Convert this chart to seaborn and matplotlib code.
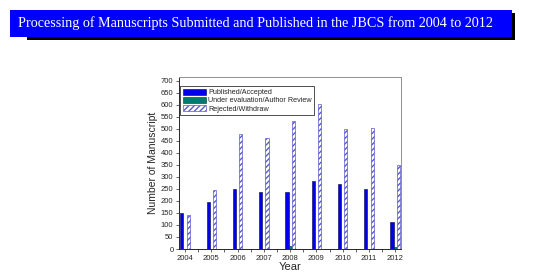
import matplotlib
matplotlib.use('Agg')
import matplotlib.pyplot as plt
from matplotlib.patches import Rectangle
from matplotlib.ticker import MultipleLocator
import seaborn as sns
import pandas as pd

years = ['2004', '2005', '2006', '2007', '2008', '2009', '2010', '2011', '2012']
published = [148, 197, 249, 236, 238, 283, 269, 251, 113]
under_review = [0, 0, 0, 0, 14, 2, 2, 0, 10]
rejected = [141, 246, 476, 462, 533, 603, 500, 502, 348]
series = ['Published/Accepted', 'Under evaluation/Author Review', 'Rejected/Withdraw']

df = pd.DataFrame({
    'Year': years * 3,
    'Count': published + under_review + rejected,
    'Status': [s for s in series for _ in years],
})

sns.set_style('ticks')
plt.rcParams['font.family'] = ['Liberation Sans', 'DejaVu Sans']

fig = plt.figure(figsize=(5.5, 2.77), dpi=100)

# title banner with drop shadow
fig.patches.append(Rectangle((27 / 550, 1 - 39.5 / 277), 488 / 550, 26.5 / 277,
                             transform=fig.transFigure, facecolor='black', edgecolor='none'))
fig.patches.append(Rectangle((10 / 550, 1 - 36.7 / 277), 502 / 550, 26.7 / 277,
                             transform=fig.transFigure, facecolor='#0000ff', edgecolor='none'))
fig.text(18 / 550, 1 - 23.5 / 277,
         'Processing of Manuscripts Submitted and Published in the JBCS from 2004 to 2012',
         color='white', family=['Liberation Serif', 'DejaVu Serif'], fontsize=10.15,
         va='center', ha='left')

ax = fig.add_axes([179 / 550, 1 - 249 / 277, 222 / 550, 172 / 277])
sns.barplot(data=df, x='Year', y='Count', hue='Status', hue_order=series,
            palette=['#0000ee', '#007a70', 'white'], width=0.36, gap=0,
            saturation=1, ax=ax, legend=False)

for p in ax.containers[0].patches:
    p.set_edgecolor('#000040')
    p.set_linewidth(0.4)
for p in ax.containers[1].patches:
    p.set_edgecolor('#003030')
    p.set_linewidth(0.4)
for p in ax.containers[2].patches:
    p.set_hatch('//////')
    p.set_edgecolor('#5a5ad0')
    p.set_linewidth(0.5)

ax.legend(ax.containers, series, loc='upper left', bbox_to_anchor=(0.0, 0.955),
          fontsize=5.2, frameon=True, fancybox=False, edgecolor='black',
          handlelength=3.2, handleheight=1.0, borderpad=0.35, labelspacing=0.05,
          handletextpad=0.25, borderaxespad=0.2)
ax.get_legend().get_frame().set_linewidth(0.6)

ax.set_ylim(0, 715)
ax.set_xlim(-0.23, 8.22)
ax.yaxis.set_major_locator(MultipleLocator(50))
ax.xaxis.set_minor_locator(MultipleLocator(1, offset=0.5))
ax.tick_params(axis='both', labelsize=5.5, length=2.5, width=0.5, pad=1.5)
ax.tick_params(axis='x', which='minor', length=2, width=0.5)
ax.set_xlabel('Year', fontsize=8, labelpad=0)
ax.set_ylabel('Number of Manuscript', fontsize=7.5, labelpad=2)

for side in ['top', 'right']:
    ax.spines[side].set_color('#909090')
for side in ax.spines:
    ax.spines[side].set_linewidth(0.7)

fig.savefig('out.png', dpi=100)
